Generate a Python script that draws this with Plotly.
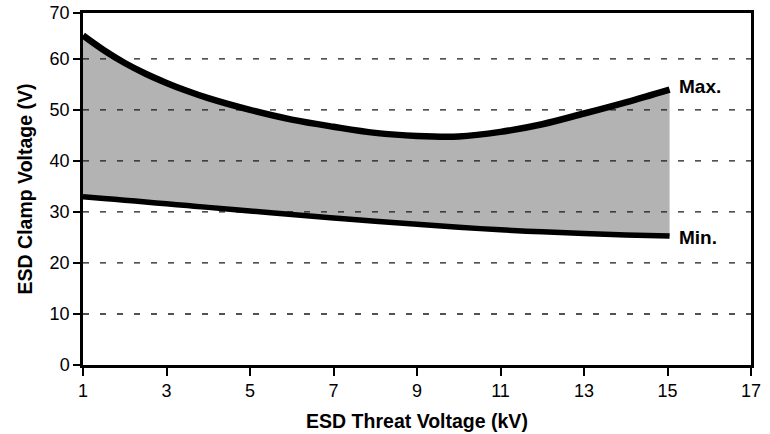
import plotly.graph_objects as go

threat_kv = [1, 1.5, 2, 2.5, 3, 3.5, 4, 5, 6, 7, 8, 9, 10, 11, 12, 13, 14, 15.05]
clamp_max = [64.6, 61.7, 59.2, 57.1, 55.3, 53.7, 52.3, 50.0, 48.1, 46.7, 45.5, 44.9, 44.8, 45.7, 47.2, 49.3, 51.5, 54.0]
clamp_min = [33.0, 32.65, 32.3, 31.95, 31.6, 31.25, 30.9, 30.2, 29.5, 28.8, 28.2, 27.6, 27.0, 26.5, 26.1, 25.8, 25.5, 25.3]

x_ticks = [1, 3, 5, 7, 9, 11, 13, 15, 17]
y_tickvals = [0, 10, 20, 30, 40, 50, 60, 69]
y_ticktext = ["0", "10", "20", "30", "40", "50", "60", "70"]
grid_levels = [10, 20, 30, 40, 50, 60]
x_range = [1, 17]

FONT = "Liberation Sans, Arial, Helvetica, sans-serif"

fig = go.Figure()
# shaded band
fig.add_trace(go.Scatter(x=threat_kv, y=clamp_min, mode="lines",
                         line=dict(color="rgba(0,0,0,0)", width=0, shape="spline"),
                         showlegend=False, hoverinfo="skip"))
fig.add_trace(go.Scatter(x=threat_kv, y=clamp_max, mode="lines",
                         line=dict(color="rgba(0,0,0,0)", width=0, shape="spline"),
                         fill="tonexty", fillcolor="#b3b3b3",
                         showlegend=False, hoverinfo="skip"))
# dashed gridlines above the band, below the curves
for g in grid_levels:
    fig.add_trace(go.Scatter(x=x_range, y=[g, g], mode="lines",
                             line=dict(color="#1a1a1a", width=1.3, dash="6px,11px"),
                             showlegend=False, hoverinfo="skip"))
# curves
fig.add_trace(go.Scatter(x=threat_kv, y=clamp_min, mode="lines",
                         line=dict(color="black", width=5.5, shape="spline"),
                         showlegend=False, hoverinfo="skip"))
fig.add_trace(go.Scatter(x=threat_kv, y=clamp_max, mode="lines",
                         line=dict(color="black", width=6.5, shape="spline"),
                         showlegend=False, hoverinfo="skip"))

fig.add_annotation(x=15.22, y=54.5, text="<b>Max.</b>", showarrow=False,
                   xanchor="left", yanchor="middle", font=dict(size=19, color="black", family=FONT))
fig.add_annotation(x=15.22, y=24.9, text="<b>Min.</b>", showarrow=False,
                   xanchor="left", yanchor="middle", font=dict(size=19, color="black", family=FONT))

fig.update_layout(
    width=770, height=434,
    margin=dict(l=83, r=19, t=13, b=69),
    paper_bgcolor="white", plot_bgcolor="white",
    font=dict(family=FONT, color="black", size=18),
    xaxis=dict(range=x_range, tickvals=x_ticks, showgrid=False, zeroline=False,
               showline=True, linecolor="black", linewidth=2.5, mirror=True,
               ticks="outside", ticklen=8, tickwidth=2, tickcolor="black",
               automargin=False,
               title=dict(text="<b>ESD Threat Voltage (kV)</b>", font=dict(size=19.5), standoff=15)),
    yaxis=dict(range=[0, 69], tickvals=y_tickvals, ticktext=y_ticktext,
               showgrid=False, zeroline=False, showline=True, linecolor="black",
               linewidth=2.5, mirror=True,
               ticks="outside", ticklen=7, tickwidth=1.5, tickcolor="black",
               automargin=False,
               title=dict(text="<b>ESD Clamp Voltage (V)</b>", font=dict(size=19.5), standoff=12)),
)

fig.write_html("out.html")
